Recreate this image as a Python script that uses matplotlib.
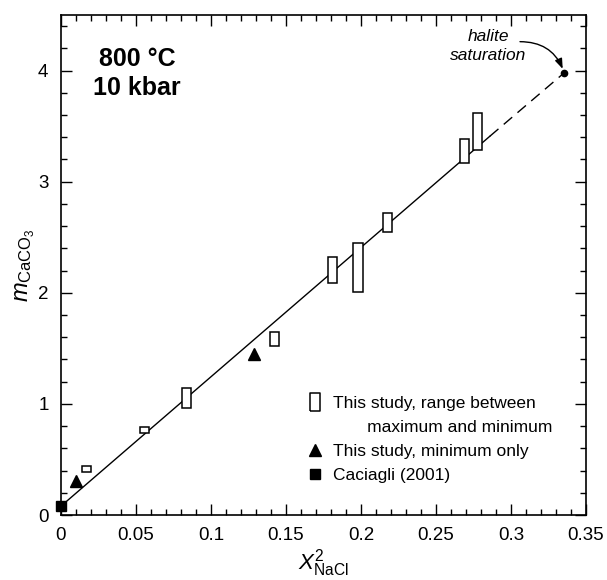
import numpy as np
import matplotlib
matplotlib.use("Agg")
import matplotlib.pyplot as plt
from matplotlib.lines import Line2D
from matplotlib.ticker import MultipleLocator

plt.rcParams['font.family'] = ['Liberation Sans', 'DejaVu Sans']
plt.rcParams['mathtext.fontset'] = 'custom'
plt.rcParams['mathtext.rm'] = 'Liberation Sans'
plt.rcParams['mathtext.it'] = 'Liberation Sans:italic'
plt.rcParams['mathtext.bf'] = 'Liberation Sans:bold'

# range boxes (this study): x, min, max
box_x = [0.0172, 0.0556, 0.0837, 0.1422, 0.181, 0.198, 0.2178, 0.2689, 0.2777]
box_min = [0.385, 0.742, 0.964, 1.52, 2.085, 2.009, 2.544, 3.168, 3.288]
box_max = [0.441, 0.79, 1.141, 1.643, 2.324, 2.445, 2.715, 3.387, 3.616]

# minimum only
tri_x = [0.010, 0.1289]
tri_y = [0.31, 1.445]

# Caciagli (2001)
cac_x = [0.0]
cac_y = [0.08]

# fitted line, solid part and dashed extrapolation to halite saturation
fit_x = [0.0, 0.286]
fit_y = [0.08, 3.41]
ext_x = [0.286, 0.3355]
ext_y = [3.41, 3.98]
hal_x = [0.3355]
hal_y = [3.98]

xtick_vals = [0, 0.05, 0.1, 0.15, 0.2, 0.25, 0.3, 0.35]
xtick_labels = ['0', '0.05', '0.1', '0.15', '0.2', '0.25', '0.3', '0.35']
ytick_vals = [0, 1, 2, 3, 4]
ytick_labels = ['0', '1', '2', '3', '4']

fs = 12.5

fig = plt.figure(figsize=(6.07, 5.80), dpi=100)
ax = fig.add_axes([61/607, 1 - 515/580, 525/607, 500/580])

ax.plot(fit_x, fit_y, color='black', lw=1.0, zorder=2)
ax.plot(ext_x, ext_y, color='black', lw=1.0, linestyle=(0, (8, 5)), zorder=2)
ax.plot(hal_x, hal_y, 'o', color='black', ms=4.5, zorder=4)

heights = np.array(box_max) - np.array(box_min)
ax.bar(box_x, heights, bottom=box_min, width=0.0062, facecolor='white',
       edgecolor='black', linewidth=1.1, zorder=3)
ax.plot(tri_x, tri_y, '^', color='black', ms=8, zorder=4)
ax.plot(cac_x, cac_y, 's', color='black', ms=7.2, zorder=5, clip_on=False)

ax.text(0.2847, 4.22, 'halite\nsaturation', ha='center', va='center',
        fontsize=fs, style='italic', linespacing=1.35)
ax.annotate('', xy=(hal_x[0], hal_y[0]), xytext=(0.306, 4.26),
            arrowprops=dict(arrowstyle='-|>,head_length=0.6,head_width=0.22',
                            color='black', lw=1.0,
                            connectionstyle='arc3,rad=-0.35',
                            shrinkA=0, shrinkB=3))

ax.text(0.145, 0.883, '800 °C\n10 kbar', transform=ax.transAxes, ha='center',
        va='center', fontsize=18, fontweight='bold', linespacing=1.25)

ax.set_xlim(0, 0.35)
ax.set_ylim(0, 4.5)
ax.xaxis.set_minor_locator(MultipleLocator(0.01))
ax.yaxis.set_minor_locator(MultipleLocator(0.2))
ax.set_xticks(xtick_vals)
ax.set_xticklabels(xtick_labels)
ax.set_yticks(ytick_vals)
ax.set_yticklabels(ytick_labels)
ax.tick_params(which='both', direction='in', top=True, right=True,
               labelsize=13.5, width=1.0)
ax.tick_params(axis='x', pad=9)
ax.tick_params(axis='y', pad=9)
ax.tick_params(which='major', length=8)
ax.tick_params(which='minor', length=4.5)
for s in ax.spines.values():
    s.set_linewidth(1.2)

ax.set_xlabel(r'$X^{2}_{\mathrm{NaCl}}$', fontsize=16, labelpad=2)
ax.set_ylabel(r'$m_{\mathrm{CaCO_3}}$', fontsize=17, labelpad=1)

box_marker = [(-0.53, -1), (0.53, -1), (0.53, 1), (-0.53, 1), (-0.53, -1)]
handles = [
    Line2D([], [], marker=box_marker, ms=13, mfc='white', mec='black', mew=1.1, ls='none'),
    Line2D([], [], ls='none'),
    Line2D([], [], marker='^', ms=8, color='black', ls='none'),
    Line2D([], [], marker='s', ms=7.2, color='black', ls='none'),
]
labels = ['This study, range between', '       maximum and minimum',
          'This study, minimum only', 'Caciagli (2001)']
ax.legend(handles, labels, loc='upper left', bbox_to_anchor=(0.4672, 0.238),
          frameon=False, fontsize=fs, handlelength=1.0, handletextpad=0.53,
          borderpad=0, borderaxespad=0, labelspacing=0.5)

fig.savefig('out.png', dpi=100)
